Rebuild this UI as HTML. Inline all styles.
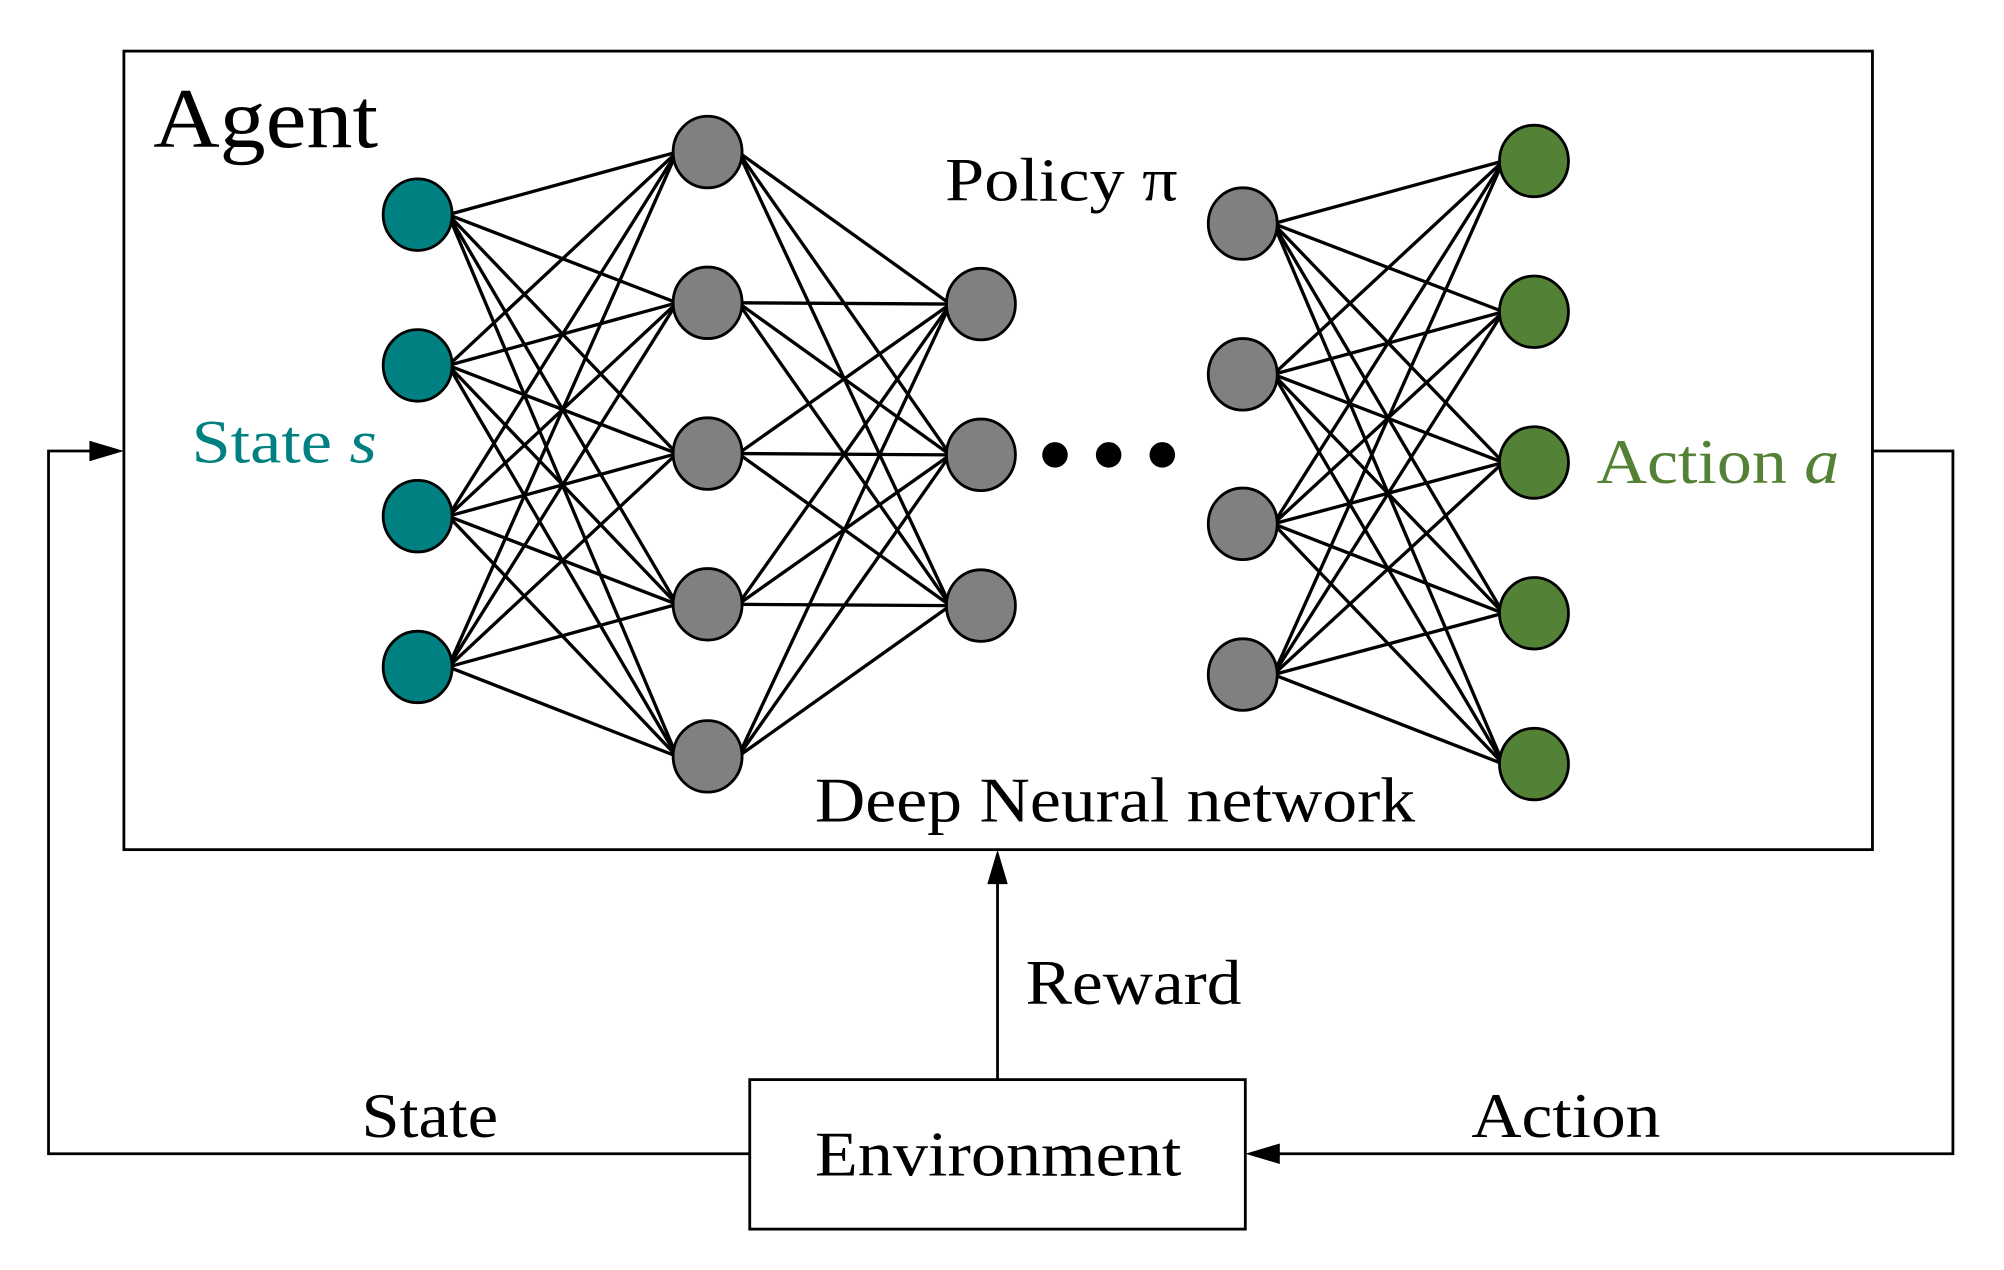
<!DOCTYPE html>
<html><head><meta charset="utf-8"><style>html,body{margin:0;padding:0;background:#fff}svg{display:block}</style></head>
<body>
<svg id="s" width="2004" height="1270" viewBox="0 0 1569 994" preserveAspectRatio="none" xmlns="http://www.w3.org/2000/svg" font-family="Liberation Serif, serif">
<rect x="97" y="40" width="1369" height="625" fill="none" stroke="#000" stroke-width="2.2"/>
<rect x="587" y="845" width="388" height="117" fill="none" stroke="#000" stroke-width="2.2"/>
<polyline points="587,903 38,903 38,353 80,353" fill="none" stroke="#000" stroke-width="2.2"/>
<polygon points="97,353 70,345 70,361" fill="#000"/>
<polyline points="1466,353 1529,353 1529,903 992,903" fill="none" stroke="#000" stroke-width="2.2"/>
<polygon points="975,903 1002,895 1002,911" fill="#000"/>
<line x1="781" y1="845" x2="781" y2="682" stroke="#000" stroke-width="2.2"/>
<polygon points="781,665 773,692 789,692" fill="#000"/>
<g id="edges" stroke="#000" stroke-width="2.6"></g>
<g id="nodes" stroke="#000" stroke-width="2.2"></g>
<circle cx="826" cy="356" r="10"/><circle cx="868" cy="356" r="10"/><circle cx="910" cy="356" r="10"/>
<text x="120" y="115" font-size="66" textLength="176" lengthAdjust="spacingAndGlyphs">Agent</text>
<text x="150" y="362" font-size="48" fill="#008080" textLength="145" lengthAdjust="spacingAndGlyphs">State <tspan font-style="italic">s</tspan></text>
<text x="740" y="157" font-size="48" textLength="182" lengthAdjust="spacingAndGlyphs">Policy π</text>
<text x="638" y="643" font-size="50" textLength="470" lengthAdjust="spacingAndGlyphs">Deep Neural network</text>
<text x="1250" y="378" font-size="50" fill="#538135" textLength="190" lengthAdjust="spacingAndGlyphs">Action <tspan font-style="italic">a</tspan></text>
<text x="803" y="786" font-size="50" textLength="169" lengthAdjust="spacingAndGlyphs">Reward</text>
<text x="283" y="890" font-size="50" textLength="107" lengthAdjust="spacingAndGlyphs">State</text>
<text x="1152" y="890" font-size="50" textLength="148" lengthAdjust="spacingAndGlyphs">Action</text>
<text x="638" y="920" font-size="50" textLength="287" lengthAdjust="spacingAndGlyphs">Environment</text>
</svg>
<script>
var L=[[327,[168,286,404,522],'#008080'],[554,[119,237,355,473,592],'#808080'],[768,[238,356,474],'#808080'],[973,[175,293,410,528],'#808080'],[1201,[126,244,362,480,598],'#538135']];
var NS='http://www.w3.org/2000/svg',E=document.getElementById('edges'),N=document.getElementById('nodes');
[[0,1],[1,2],[3,4]].forEach(function(p){var a=L[p[0]],b=L[p[1]];a[1].forEach(function(y1){b[1].forEach(function(y2){var l=document.createElementNS(NS,'line');l.setAttribute('x1',a[0]+24);l.setAttribute('y1',y1);l.setAttribute('x2',b[0]-24);l.setAttribute('y2',y2);E.appendChild(l);});});});
L.forEach(function(c){c[1].forEach(function(y){var e=document.createElementNS(NS,'ellipse');e.setAttribute('cx',c[0]);e.setAttribute('cy',y);e.setAttribute('rx',27);e.setAttribute('ry',28);e.setAttribute('fill',c[2]);N.appendChild(e);});});
</script>
</body></html>
